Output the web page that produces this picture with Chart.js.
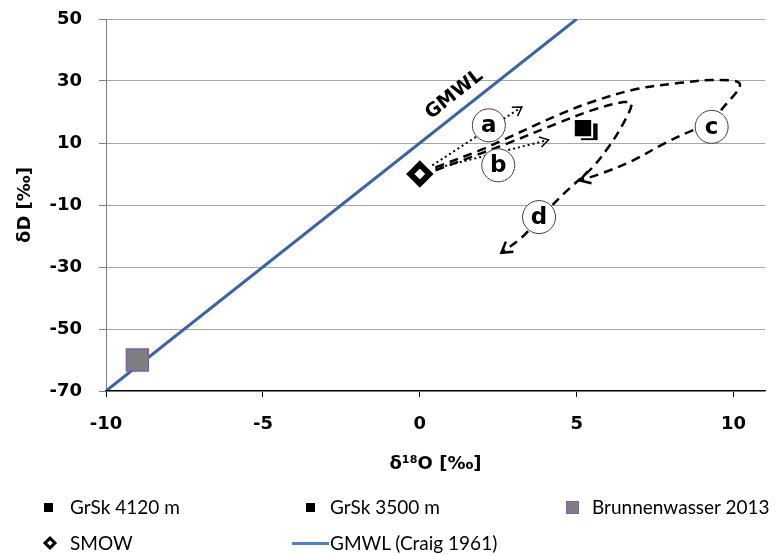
<!DOCTYPE html>
<html>
<head>
<meta charset="utf-8">
<script src="https://cdn.jsdelivr.net/npm/chart.js@4.4.1/dist/chart.umd.min.js"></script>
<style>
  body { margin: 0; background: #fff; }
  #wrap { position: relative; width: 782px; height: 555px; }
  #legende { position: absolute; left: 0; top: 0; width: 782px; height: 555px; pointer-events: none;
             font-family: Lato, "Open Sans", sans-serif; font-size: 19px; color: #000; }
  .sym, .txt { position: absolute; box-sizing: border-box; white-space: nowrap; }
  .txt { line-height: 26px; height: 26px; }
</style>
</head>
<body>
<div id="wrap">
  <canvas id="diagramm" width="782" height="555"></canvas>
  <div id="legende"></div>
</div>
<script>
// Messpunkte (δ18O / δD in ‰)
const grsk4120X = [5.4];
const grsk4120Y = [13.6];
const grsk3500X = [5.2];
const grsk3500Y = [14.8];
const brunnenX = [-9];
const brunnenY = [-60];
const smowX = [0];
const smowY = [0];
// GMWL (Craig 1961), Endpunkte im Diagramm
const gmwlX = [-10, 5];
const gmwlY = [-70, 50];

// Trendpfeile (gestrichelt: c und d, gepunktet: a und b)
const pfadCX = [0.5, 2.0, 2.7, 4.4, 5.5, 6.9, 8.3, 9.4, 10.2, 9.6, 9.2, 8.7, 7.8, 6.8, 5.8, 5.1];
const pfadCY = [2.1, 8.0, 11.2, 19.0, 23.3, 27.4, 29.4, 30.3, 29.0, 20.6, 15.5, 14.1, 9.9, 4.4, 0.2, -2.1];
const pfadDX = [0.5, 2.8, 4.4, 5.5, 6.5, 6.75, 6.45, 6.05, 5.5, 4.7, 3.8, 3.25, 2.6];
const pfadDY = [1.2, 9.9, 16.4, 20.6, 23.2, 22.6, 15.7, 9.2, 2.1, -5.3, -14.4, -20.5, -25.4];
const pfeilAX = [0.4, 3.25];
const pfeilAY = [2.8, 21.6];
const pfeilBX = [0.5, 4.1];
const pfeilBY = [1.8, 11.0];

// Beschriftungen im Kreis
const kreisText = ['a', 'b', 'c', 'd'];
const kreisX = [2.2, 2.5, 9.3, 3.8];
const kreisY = [15.7, 2.8, 15.2, -13.9];

// Achsen
const xTicks = [-10, -5, 0, 5, 10];
const yTicks = [-70, -50, -30, -10, 10, 30, 50];

const punkte = (xs, ys) => xs.map((v, i) => ({ x: v, y: ys[i] }));

const pfeile = [
  { xs: pfadCX, ys: pfadCY, w: 2.5, len: 12 },
  { xs: pfadDX, ys: pfadDY, w: 2.5, len: 12 },
  { xs: pfeilAX, ys: pfeilAY, w: 1.5, len: 10 },
  { xs: pfeilBX, ys: pfeilBY, w: 1.5, len: 10 },
];

const schriftAchse = { family: '"DejaVu Sans", sans-serif', size: 18, weight: 'bold' };

// Pfeilspitzen, Kreise und GMWL-Schriftzug
const extras = {
  id: 'extras',
  afterDatasetsDraw(chart) {
    const { ctx, scales: { x, y } } = chart;
    ctx.save();
    ctx.setLineDash([]);
    ctx.strokeStyle = '#000';
    pfeile.forEach(p => {
      const n = p.xs.length;
      const x1 = x.getPixelForValue(p.xs[n - 2]), y1 = y.getPixelForValue(p.ys[n - 2]);
      const x2 = x.getPixelForValue(p.xs[n - 1]), y2 = y.getPixelForValue(p.ys[n - 1]);
      const w = Math.atan2(y2 - y1, x2 - x1);
      ctx.lineWidth = p.w;
      ctx.beginPath();
      ctx.moveTo(x2 - p.len * Math.cos(w - 0.55), y2 - p.len * Math.sin(w - 0.55));
      ctx.lineTo(x2, y2);
      ctx.lineTo(x2 - p.len * Math.cos(w + 0.55), y2 - p.len * Math.sin(w + 0.55));
      ctx.stroke();
    });

    ctx.font = 'bold 23px "DejaVu Sans", sans-serif';
    ctx.textAlign = 'center';
    ctx.textBaseline = 'middle';
    kreisText.forEach((t, i) => {
      const px = x.getPixelForValue(kreisX[i]), py = y.getPixelForValue(kreisY[i]);
      ctx.beginPath();
      ctx.arc(px, py, 16.5, 0, Math.PI * 2);
      ctx.fillStyle = '#fff';
      ctx.fill();
      ctx.lineWidth = 1;
      ctx.strokeStyle = '#404040';
      ctx.stroke();
      ctx.fillStyle = '#000';
      ctx.fillText(t, px, py + 1);
    });

    // Schriftzug entlang der GMWL
    const gx1 = x.getPixelForValue(gmwlX[0]), gy1 = y.getPixelForValue(gmwlY[0]);
    const gx2 = x.getPixelForValue(gmwlX[1]), gy2 = y.getPixelForValue(gmwlY[1]);
    ctx.translate(x.getPixelForValue(1.1), y.getPixelForValue(25.6));
    ctx.rotate(Math.atan2(gy2 - gy1, gx2 - gx1));
    ctx.font = 'bold 19px "DejaVu Sans", sans-serif';
    ctx.fillText('GMWL', 0, 0);
    ctx.restore();
  }
};

const chart = new Chart(document.getElementById('diagramm'), {
  type: 'scatter',
  plugins: [extras],
  data: {
    datasets: [
      { label: 'GrSk 3500 m', data: punkte(grsk3500X, grsk3500Y), order: -1,
        pointStyle: 'rect', radius: 13, backgroundColor: '#000', borderColor: '#fff', borderWidth: 2 },
      { label: 'GrSk 4120 m', data: punkte(grsk4120X, grsk4120Y), order: 0,
        pointStyle: 'rect', radius: 12.5, backgroundColor: '#000', borderColor: '#fff', borderWidth: 1 },
      { label: 'Brunnenwasser 2013', data: punkte(brunnenX, brunnenY), order: 0,
        pointStyle: 'rect', radius: 15.5, backgroundColor: '#7f7f7f', borderColor: '#7b62a3', borderWidth: 1.5 },
      { label: 'SMOW', data: punkte(smowX, smowY), order: -1,
        pointStyle: 'rectRot', radius: 9.5, backgroundColor: '#fff', borderColor: '#000', borderWidth: 6 },
      { label: 'GMWL (Craig 1961)', data: punkte(gmwlX, gmwlY), order: 1, showLine: true,
        borderColor: '#3a64a3', borderWidth: 3, pointRadius: 0 },
      { label: 'c', data: punkte(pfadCX, pfadCY), order: 2, showLine: true, tension: 0.35,
        borderColor: '#000', borderWidth: 2.5, borderDash: [9, 6], pointRadius: 0 },
      { label: 'd', data: punkte(pfadDX, pfadDY), order: 2, showLine: true, tension: 0.35,
        borderColor: '#000', borderWidth: 2.5, borderDash: [9, 6], pointRadius: 0 },
      { label: 'a', data: punkte(pfeilAX, pfeilAY), order: 2, showLine: true,
        borderColor: '#000', borderWidth: 2, borderDash: [2, 3], pointRadius: 0 },
      { label: 'b', data: punkte(pfeilBX, pfeilBY), order: 2, showLine: true,
        borderColor: '#000', borderWidth: 2, borderDash: [2, 3], pointRadius: 0 },
    ]
  },
  options: {
    responsive: false,
    animation: false,
    layout: { padding: { top: 19, right: 7, left: 0, bottom: 74 } },
    plugins: { legend: { display: false }, tooltip: { enabled: false } },
    scales: {
      x: {
        type: 'linear', min: -10, max: 11,
        afterBuildTicks: s => { s.ticks = xTicks.map(v => ({ value: v })); },
        afterFit: s => { s.height = 90; s.paddingLeft = 0; s.paddingRight = 0; },
        grid: { drawOnChartArea: false, tickLength: 6, color: '#000' },
        border: { color: '#000', width: 1.2, z: 1 },
        ticks: { color: '#000', font: schriftAchse, padding: 17, maxRotation: 0 },
        title: { display: true, text: 'δ¹⁸O [‰]', color: '#000', font: schriftAchse,
                 padding: { top: 4, bottom: 6 } }
      },
      y: {
        type: 'linear', min: -70, max: 50,
        afterBuildTicks: s => { s.ticks = yTicks.map(v => ({ value: v })); },
        afterFit: s => { s.width = 106; s.paddingTop = 0; s.paddingBottom = 0; },
        grid: { color: '#a6a6a6', tickLength: 7, tickColor: '#808080' },
        border: { color: '#808080' },
        ticks: { color: '#000', font: schriftAchse, padding: 17 },
        title: { display: true, text: 'δD [‰]', color: '#000', font: schriftAchse, padding: 15 }
      }
    }
  }
});

// Legende als Raster wie im Original (Symbol links, Text rechts davon)
const legende = [
  { text: 'GrSk 4120 m', symX: 44, txtX: 70, zeile: 0, sym: 'width:9px;height:9px;background:#000;' },
  { text: 'GrSk 3500 m', symX: 306, txtX: 330, zeile: 0, sym: 'width:9px;height:9px;background:#000;' },
  { text: 'Brunnenwasser 2013', symX: 566, txtX: 592, zeile: 0, sym: 'width:13px;height:13px;background:#7f7f7f;border:1.5px solid #7b62a3;' },
  { text: 'SMOW', symX: 45, txtX: 70, zeile: 1, sym: 'width:10px;height:10px;background:#fff;border:3px solid #000;transform:rotate(45deg);' },
  { text: 'GMWL (Craig 1961)', symX: 292, txtX: 330, zeile: 1, sym: 'width:37px;height:3px;background:#4f81bd;' },
];
const zeilenMitte = [507, 543];
const box = document.getElementById('legende');
legende.forEach(e => {
  const s = document.createElement('span');
  s.className = 'sym';
  s.style.cssText = e.sym;
  box.appendChild(s);
  const h = parseFloat(s.style.height);
  s.style.left = e.symX + 'px';
  s.style.top = (zeilenMitte[e.zeile] - h / 2) + 'px';
  const t = document.createElement('span');
  t.className = 'txt';
  t.style.left = e.txtX + 'px';
  t.style.top = (zeilenMitte[e.zeile] - 13) + 'px';
  t.textContent = e.text;
  box.appendChild(t);
});
</script>
</body>
</html>
